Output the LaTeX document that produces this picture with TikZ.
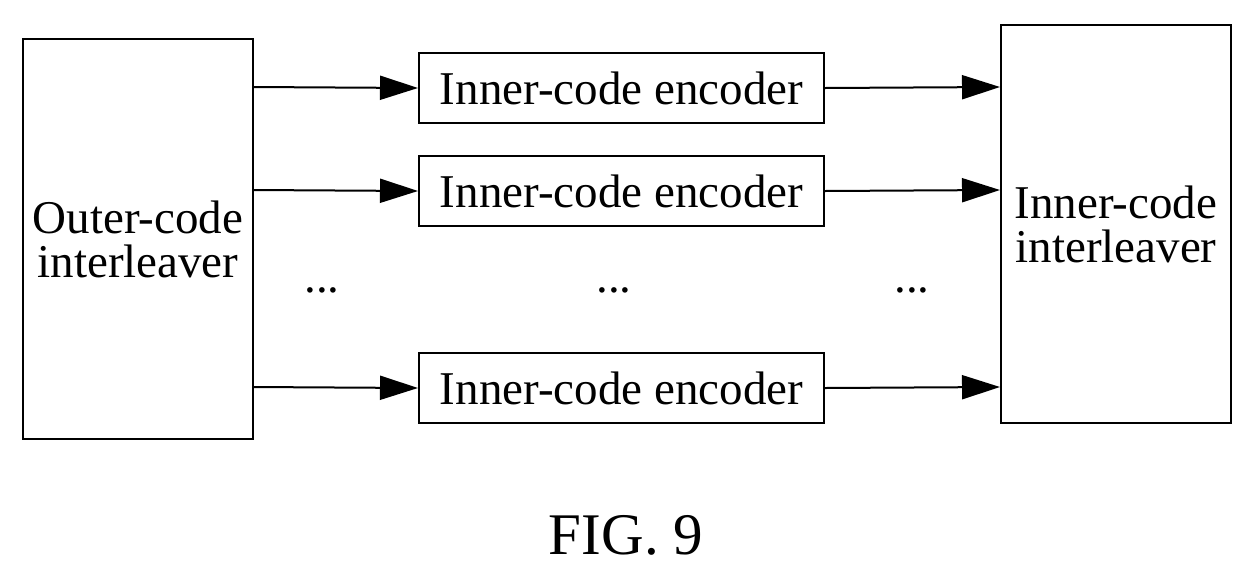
\documentclass[tikz,border=0pt]{standalone}
\usepackage{fontspec}
\setmainfont{Liberation Serif}
\usetikzlibrary{arrows.meta}
\begin{document}
\begin{tikzpicture}[x=1pt,y=-1pt,
  box/.style={draw,line width=2pt,inner sep=0pt,anchor=north west},
  arr/.style={line width=2pt,-{Triangle[length=38pt,width=24pt]}},
  txt/.style={font=\fontsize{47}{50}\selectfont}]
\useasboundingbox (0,0) rectangle (1252,574);
\node[box,minimum width=230pt,minimum height=400pt,txt,align=center] (outer) at (22,38) {Outer-code\\[-6pt]interleaver};
\node[box,minimum width=230pt,minimum height=398pt,txt,align=center] (inner) at (1000,24) {Inner-code\\[-6pt]interleaver};
\node[box,minimum width=405pt,minimum height=70pt,txt] (e1) at (418,52) {Inner-code encoder};
\node[box,minimum width=405pt,minimum height=70pt,txt] (e2) at (418,155) {Inner-code encoder};
\node[box,minimum width=405pt,minimum height=70pt,txt] (e3) at (418,352) {Inner-code encoder};
\foreach \e/\y in {e1/87,e2/190,e3/387}{
  \draw[arr] (outer.east |- 0,\y) -- (\e.west);
  \draw[arr] (\e.east) -- (inner.west |- 0,\y);
}
\node[txt] (d1) at (322,290) {...};
\node[txt] (d2) at (614,290) {...};
\node[txt] (d3) at (912,290) {...};
\node[font=\fontsize{59}{62}\selectfont] (fig) at (626,535) {FIG. 9};
\end{tikzpicture}
\end{document}
